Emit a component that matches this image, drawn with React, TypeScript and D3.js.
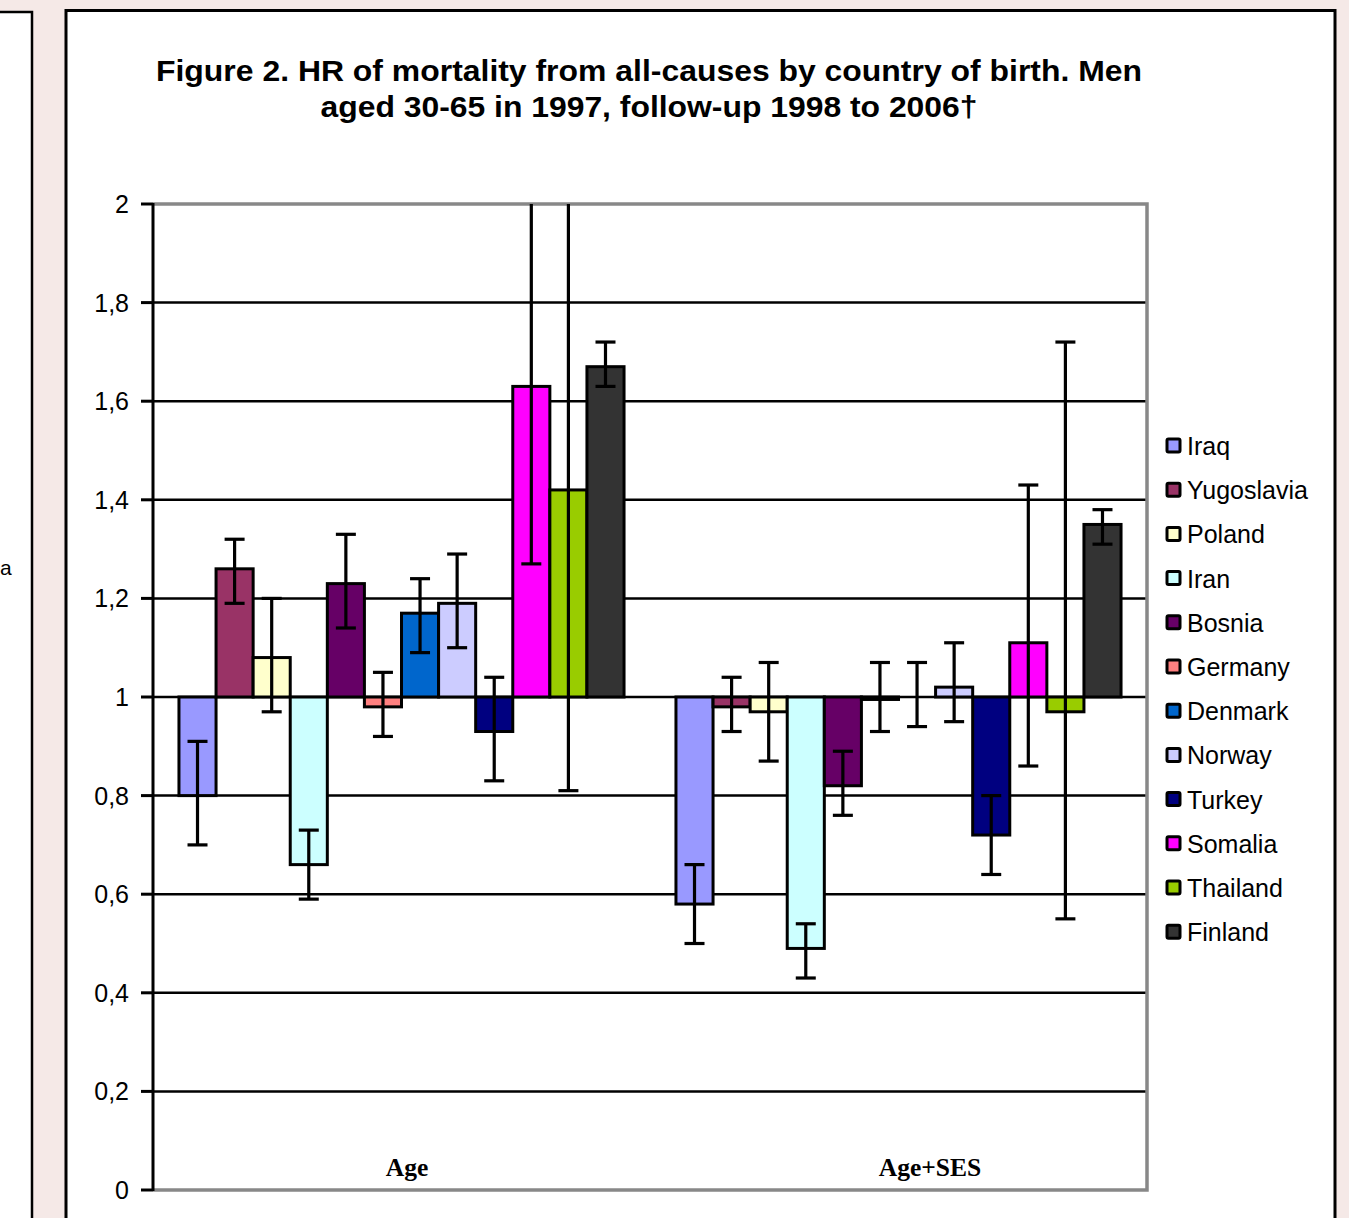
import * as d3 from "d3";
import { useEffect, useRef } from "react";

const WIDTH = 1368;
const HEIGHT = 1218;

const countries = ["Iraq", "Yugoslavia", "Poland", "Iran", "Bosnia", "Germany", "Denmark", "Norway", "Turkey", "Somalia", "Thailand", "Finland"];
const colors = ["#9999ff", "#993366", "#ffffcc", "#ccffff", "#660066", "#ff8080", "#0066cc", "#ccccff", "#000080", "#ff00ff", "#99cc00", "#333333"];
const models = ["Age", "Age+SES"];

// hazard ratios per model, in country order
const hrAge = [0.8, 1.26, 1.08, 0.66, 1.23, 0.98, 1.17, 1.19, 0.93, 1.63, 1.42, 1.67];
const lowAge = [0.7, 1.19, 0.97, 0.59, 1.14, 0.92, 1.09, 1.1, 0.83, 1.27, 0.81, 1.63];
const highAge = [0.91, 1.32, 1.2, 0.73, 1.33, 1.05, 1.24, 1.29, 1.04, 2.3, 2.4, 1.72];

const hrSes = [0.58, 0.98, 0.97, 0.49, 0.82, 0.995, 1.0, 1.02, 0.72, 1.11, 0.97, 1.35];
const lowSes = [0.5, 0.93, 0.87, 0.43, 0.76, 0.93, 0.94, 0.95, 0.64, 0.86, 0.55, 1.31];
const highSes = [0.66, 1.04, 1.07, 0.54, 0.89, 1.07, 1.07, 1.11, 0.8, 1.43, 1.72, 1.38];

const yTicks = [0, 0.2, 0.4, 0.6, 0.8, 1, 1.2, 1.4, 1.6, 1.8, 2];

const titleLines = ["Figure 2. HR of mortality  from all-causes by country of birth. Men", "aged 30-65 in 1997, follow-up 1998 to 2006†"];
const titleWidths = [986, 657];

export default function App() {
    const svgRef = useRef<SVGSVGElement | null>(null);

    useEffect(() => {
        if (!svgRef.current) return;
        const svg = d3.select(svgRef.current);
        svg.selectAll("*").remove();

        const sans = "Arial, 'Liberation Sans', sans-serif";
        const plot = { left: 153, right: 1147, top: 204, bottom: 1190 };

        // page background and the two panels
        svg.append("rect").attr("width", WIDTH).attr("height", HEIGHT).attr("fill", "#f5e9e7");
        svg.append("rect").attr("x", 1349).attr("y", 0).attr("width", 30).attr("height", HEIGHT).attr("fill", "#ffffff");
        svg.append("rect").attr("x", -10).attr("y", 12).attr("width", 42).attr("height", HEIGHT).attr("fill", "#fff").attr("stroke", "#000").attr("stroke-width", 2.5);
        svg.append("text").attr("x", 0).attr("y", 575).attr("font-family", sans).attr("font-size", 21).text("a");
        svg.append("rect").attr("x", 66).attr("y", 10.5).attr("width", 1269).attr("height", HEIGHT).attr("fill", "#fff").attr("stroke", "#000").attr("stroke-width", 3);

        // title
        svg.append("g")
            .selectAll("text")
            .data(titleLines)
            .enter()
            .append("text")
            .attr("x", 649)
            .attr("y", (_, i) => 81 + i * 36)
            .attr("text-anchor", "middle")
            .attr("font-family", sans)
            .attr("font-weight", "bold")
            .attr("font-size", 30)
            .attr("textLength", (_, i) => titleWidths[i])
            .attr("lengthAdjust", "spacingAndGlyphs")
            .text((d) => d);

        const y = d3.scaleLinear().domain([0, 2]).range([plot.bottom, plot.top]);
        const x0 = d3.scaleBand<string>().domain(models).range([plot.left, plot.right]).paddingInner(0).paddingOuter(0);
        const x1 = d3.scaleBand<string>().domain(countries).range([0, x0.bandwidth()]).paddingOuter(0.7).paddingInner(0);
        const xLabel = d3.scalePoint<string>().domain(models).range([407, 930]);

        // gridlines
        svg.append("g")
            .selectAll("line")
            .data(yTicks.filter((t) => t > 0 && t < 2))
            .enter()
            .append("line")
            .attr("x1", plot.left)
            .attr("x2", plot.right)
            .attr("y1", (d) => y(d))
            .attr("y2", (d) => y(d))
            .attr("stroke", "#000")
            .attr("stroke-width", 2.5);

        // plot frame (gray)
        svg.append("path")
            .attr("d", `M${plot.left},${plot.top}H${plot.right}V${plot.bottom}H${plot.left}`)
            .attr("fill", "none")
            .attr("stroke", "#888")
            .attr("stroke-width", 3.5);

        svg.append("clipPath").attr("id", "plotclip").append("rect")
            .attr("x", plot.left).attr("y", plot.top).attr("width", plot.right - plot.left).attr("height", plot.bottom - plot.top);

        const groups = [
            { model: models[0], hr: hrAge, low: lowAge, high: highAge },
            { model: models[1], hr: hrSes, low: lowSes, high: highSes },
        ];

        const g = svg.append("g").attr("clip-path", "url(#plotclip)");
        groups.forEach((grp) => {
            const gx = x0(grp.model) ?? 0;
            const rows = countries.map((c, i) => ({ c, i, v: grp.hr[i], lo: grp.low[i], hi: grp.high[i] }));
            g.append("g")
                .selectAll("rect")
                .data(rows)
                .enter()
                .append("rect")
                .attr("x", (d) => gx + (x1(d.c) ?? 0))
                .attr("width", x1.bandwidth())
                .attr("y", (d) => Math.min(y(d.v), y(1)))
                .attr("height", (d) => Math.abs(y(d.v) - y(1)))
                .attr("fill", (d) => colors[d.i])
                .attr("stroke", "#000")
                .attr("stroke-width", 3);

            const eb = g.append("g").attr("stroke", "#000").attr("stroke-width", 3.2);
            rows.forEach((d) => {
                const cx = gx + (x1(d.c) ?? 0) + x1.bandwidth() / 2;
                eb.append("line").attr("x1", cx).attr("x2", cx).attr("y1", y(d.lo)).attr("y2", y(d.hi));
                [d.lo, d.hi].forEach((v) => {
                    eb.append("line").attr("x1", cx - 10).attr("x2", cx + 10).attr("y1", y(v)).attr("y2", y(v));
                });
            });
        });

        // y axis
        svg.append("line").attr("x1", plot.left).attr("x2", plot.left).attr("y1", plot.top - 1).attr("y2", plot.bottom + 1).attr("stroke", "#000").attr("stroke-width", 3);
        const axis = svg.append("g");
        axis.selectAll("line")
            .data(yTicks)
            .enter()
            .append("line")
            .attr("x1", 141)
            .attr("x2", plot.left)
            .attr("y1", (d) => y(d))
            .attr("y2", (d) => y(d))
            .attr("stroke", "#000")
            .attr("stroke-width", 3);
        axis.selectAll("text")
            .data(yTicks)
            .enter()
            .append("text")
            .attr("x", 129)
            .attr("y", (d) => y(d) + 9)
            .attr("text-anchor", "end")
            .attr("font-family", sans)
            .attr("font-size", 25)
            .text((d) => String(d).replace(".", ","));

        // category labels
        svg.append("g")
            .selectAll("text")
            .data(models)
            .enter()
            .append("text")
            .attr("x", (d) => xLabel(d) ?? 0)
            .attr("y", 1176)
            .attr("text-anchor", "middle")
            .attr("font-family", "'Times New Roman', 'Liberation Serif', serif")
            .attr("font-weight", "bold")
            .attr("font-size", 25.5)
            .text((d) => d);

        // legend
        const legend = svg.append("g").attr("transform", "translate(1166, 446)");
        const item = legend
            .selectAll("g")
            .data(countries)
            .enter()
            .append("g")
            .attr("transform", (_, i) => `translate(0, ${i * 44.2})`);
        item.append("rect")
            .attr("x", 1)
            .attr("y", -7)
            .attr("width", 13)
            .attr("height", 13)
            .attr("rx", 1.5)
            .attr("fill", (_, i) => colors[i])
            .attr("stroke", "#000")
            .attr("stroke-width", 3);
        item.append("text")
            .attr("x", 21)
            .attr("y", 9)
            .attr("font-family", sans)
            .attr("font-size", 25)
            .text((d) => d);

        return () => { svg.selectAll("*").remove(); };
    }, []);

    return (
        <svg
            ref={svgRef}
            width={WIDTH}
            height={HEIGHT}
            style={{ position: "absolute", left: 0, top: 0, display: "block" }}
        />
    );
}
